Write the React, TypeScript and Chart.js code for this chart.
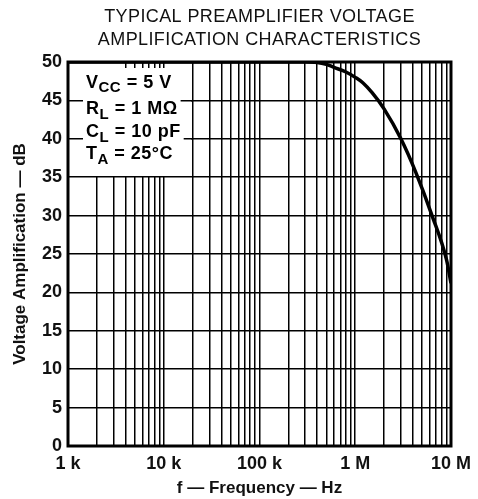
import React, { useEffect, useRef } from 'react';
import { Chart, registerables } from 'chart.js';

Chart.register(...registerables);

// ---- data ----
const frequencies = [1e3, 1e4, 1e5, 3e5, 4e5, 5e5, 6e5, 8e5, 1e6, 1.2e6, 1.5e6, 2e6, 3e6, 4.3e6, 6.3e6, 9e6, 1e7];
const amplificationDb = [50, 50, 50, 50, 49.95, 49.7, 49.3, 48.7, 48.0, 47.3, 46.0, 43.9, 40.0, 35.6, 30.1, 24.2, 21.2];

const xDecades = [1e3, 1e4, 1e5, 1e6, 1e7];
const xDecadeLabels = ['1 k', '10 k', '100 k', '1 M', '10 M'];
const minorMultipliers = [1, 2, 3, 4, 5, 6, 7, 8, 9];
const yTickValues = [0, 5, 10, 15, 20, 25, 30, 35, 40, 45, 50];

const titleLines = ['TYPICAL PREAMPLIFIER VOLTAGE', 'AMPLIFICATION CHARACTERISTICS'];
const xAxisTitle = 'f \u2014 Frequency \u2014 Hz';
const yAxisTitle = 'Voltage Amplification \u2014 dB';

type Seg = { t: string; sub?: boolean };
const conditionLines: Seg[][] = [
  [{ t: 'V' }, { t: 'CC', sub: true }, { t: ' = 5 V' }],
  [{ t: 'R' }, { t: 'L', sub: true }, { t: ' = 1 M\u03A9' }],
  [{ t: 'C' }, { t: 'L', sub: true }, { t: ' = 10 pF' }],
  [{ t: 'T' }, { t: 'A', sub: true }, { t: ' = 25\u00B0C' }],
];

const FONT = '"Liberation Sans", Arial, Helvetica, sans-serif';
const GRID_W = 1.5;

const xTickValues = [
  ...xDecades.slice(0, -1).flatMap((d) => minorMultipliers.map((m) => d * m)),
  xDecades[xDecades.length - 1],
];

const overlayPlugin = {
  id: 'overlay',
  beforeDatasetsDraw(chart: any) {
    const { ctx, chartArea: a, scales } = chart;
    ctx.save();
    // white block behind the condition text
    ctx.fillStyle = '#fff';
    ctx.fillRect(a.left + 1, a.top + 6, 122, 108);
    ctx.fillRect(a.left + 1, a.top + 1, 54, 6);
    // horizontal grid lines that pass through the block
    ctx.strokeStyle = '#000';
    ctx.lineWidth = GRID_W;
    [45, 40].forEach((v) => {
      const y = Math.round(scales.y.getPixelForValue(v) - GRID_W / 2) + GRID_W / 2;
      ctx.beginPath();
      ctx.moveTo(a.left, y);
      ctx.lineTo(a.left + 124, y);
      ctx.stroke();
    });
    // condition text
    const baselines = [87.5, 114, 137, 159];
    const x0 = a.left + 18;
    (ctx as any).letterSpacing = '0.5px';
    conditionLines.forEach((line, i) => {
      const by = baselines[i];
      let w = 0;
      line.forEach((s) => {
        ctx.font = `bold ${s.sub ? 15 : 18}px ${FONT}`;
        w += ctx.measureText(s.t).width;
      });
      ctx.fillStyle = '#fff';
      ctx.fillRect(x0 - 3, by - 17, w + 6, 23);
      let x = x0;
      ctx.fillStyle = '#000';
      ctx.textBaseline = 'alphabetic';
      ctx.textAlign = 'left';
      line.forEach((s) => {
        ctx.font = `bold ${s.sub ? 15 : 18}px ${FONT}`;
        ctx.fillText(s.t, x, by + (s.sub ? 4.5 : 0));
        x += ctx.measureText(s.t).width;
      });
    });
    ctx.restore();
  },
  afterDatasetsDraw(chart: any) {
    const { ctx, chartArea: a } = chart;
    ctx.save();
    ctx.strokeStyle = '#000';
    ctx.lineWidth = 3;
    ctx.strokeRect(a.left, a.top, a.right - a.left, a.bottom - a.top);
    ctx.restore();
  },
  afterDraw(chart: any) {
    const { ctx, chartArea: a } = chart;
    ctx.save();
    ctx.fillStyle = '#111';
    ctx.font = `18px ${FONT}`;
    (ctx as any).letterSpacing = '0.4px';
    ctx.textAlign = 'center';
    ctx.textBaseline = 'alphabetic';
    const cx = (a.left + a.right) / 2;
    ctx.fillText(titleLines[0], cx, 21.7);
    ctx.fillText(titleLines[1], cx, 45);
    ctx.restore();
  },
};

export default function App() {
  const ref = useRef<HTMLCanvasElement>(null);
  useEffect(() => {
    document.body.style.margin = '0';
    const chart = new Chart(ref.current as HTMLCanvasElement, {
      type: 'line',
      data: {
        datasets: [
          {
            data: frequencies.map((f, i) => ({ x: f, y: amplificationDb[i] })),
            borderColor: '#000',
            borderWidth: 3.5,
            pointRadius: 0,
            cubicInterpolationMode: 'monotone',
            fill: false,
          },
        ],
      },
      options: {
        animation: false,
        responsive: false,
        devicePixelRatio: 1,
        layout: { padding: { top: 62, right: 26, left: 0, bottom: 0 } },
        plugins: { legend: { display: false }, tooltip: { enabled: false }, title: { display: false } },
        scales: {
          x: {
            type: 'logarithmic',
            min: 1e3,
            max: 1e7,
            afterBuildTicks: (s: any) => {
              s.ticks = xTickValues.map((v) => ({ value: v }));
            },
            afterFit: (s: any) => {
              s.height = 53;
            },
            ticks: {
              autoSkip: false,
              maxRotation: 0,
              minRotation: 0,
              padding: 7,
              color: '#111',
              font: { family: FONT, size: 18, weight: 'bold' },
              callback: (v: any) => {
                const i = xDecades.indexOf(Number(v));
                return i >= 0 ? xDecadeLabels[i] : '';
              },
            },
            grid: { color: '#000', lineWidth: GRID_W, drawTicks: false },
            border: { display: false },
            title: {
              display: true,
              text: xAxisTitle,
              color: '#111',
              font: { family: FONT, size: 17, weight: 'bold' },
              padding: { top: 0, bottom: 0 },
            },
          },
          y: {
            type: 'linear',
            min: 0,
            max: 50,
            afterBuildTicks: (s: any) => {
              s.ticks = yTickValues.map((v) => ({ value: v }));
            },
            afterFit: (s: any) => {
              s.width = 68;
            },
            ticks: {
              padding: 6,
              color: '#111',
              font: { family: FONT, size: 18, weight: 'bold' },
            },
            grid: { color: '#000', lineWidth: GRID_W, drawTicks: false },
            border: { display: false },
            title: {
              display: true,
              text: yAxisTitle,
              color: '#111',
              font: { family: FONT, size: 17, weight: 'bold' },
              padding: { top: 10, bottom: 0 },
            },
          },
        },
      } as any,
      plugins: [overlayPlugin],
    });
    return () => chart.destroy();
  }, []);
  return (
    <div style={{ width: 478, height: 499 }}>
      <canvas ref={ref} width={478} height={499} style={{ display: 'block' }} />
    </div>
  );
}
